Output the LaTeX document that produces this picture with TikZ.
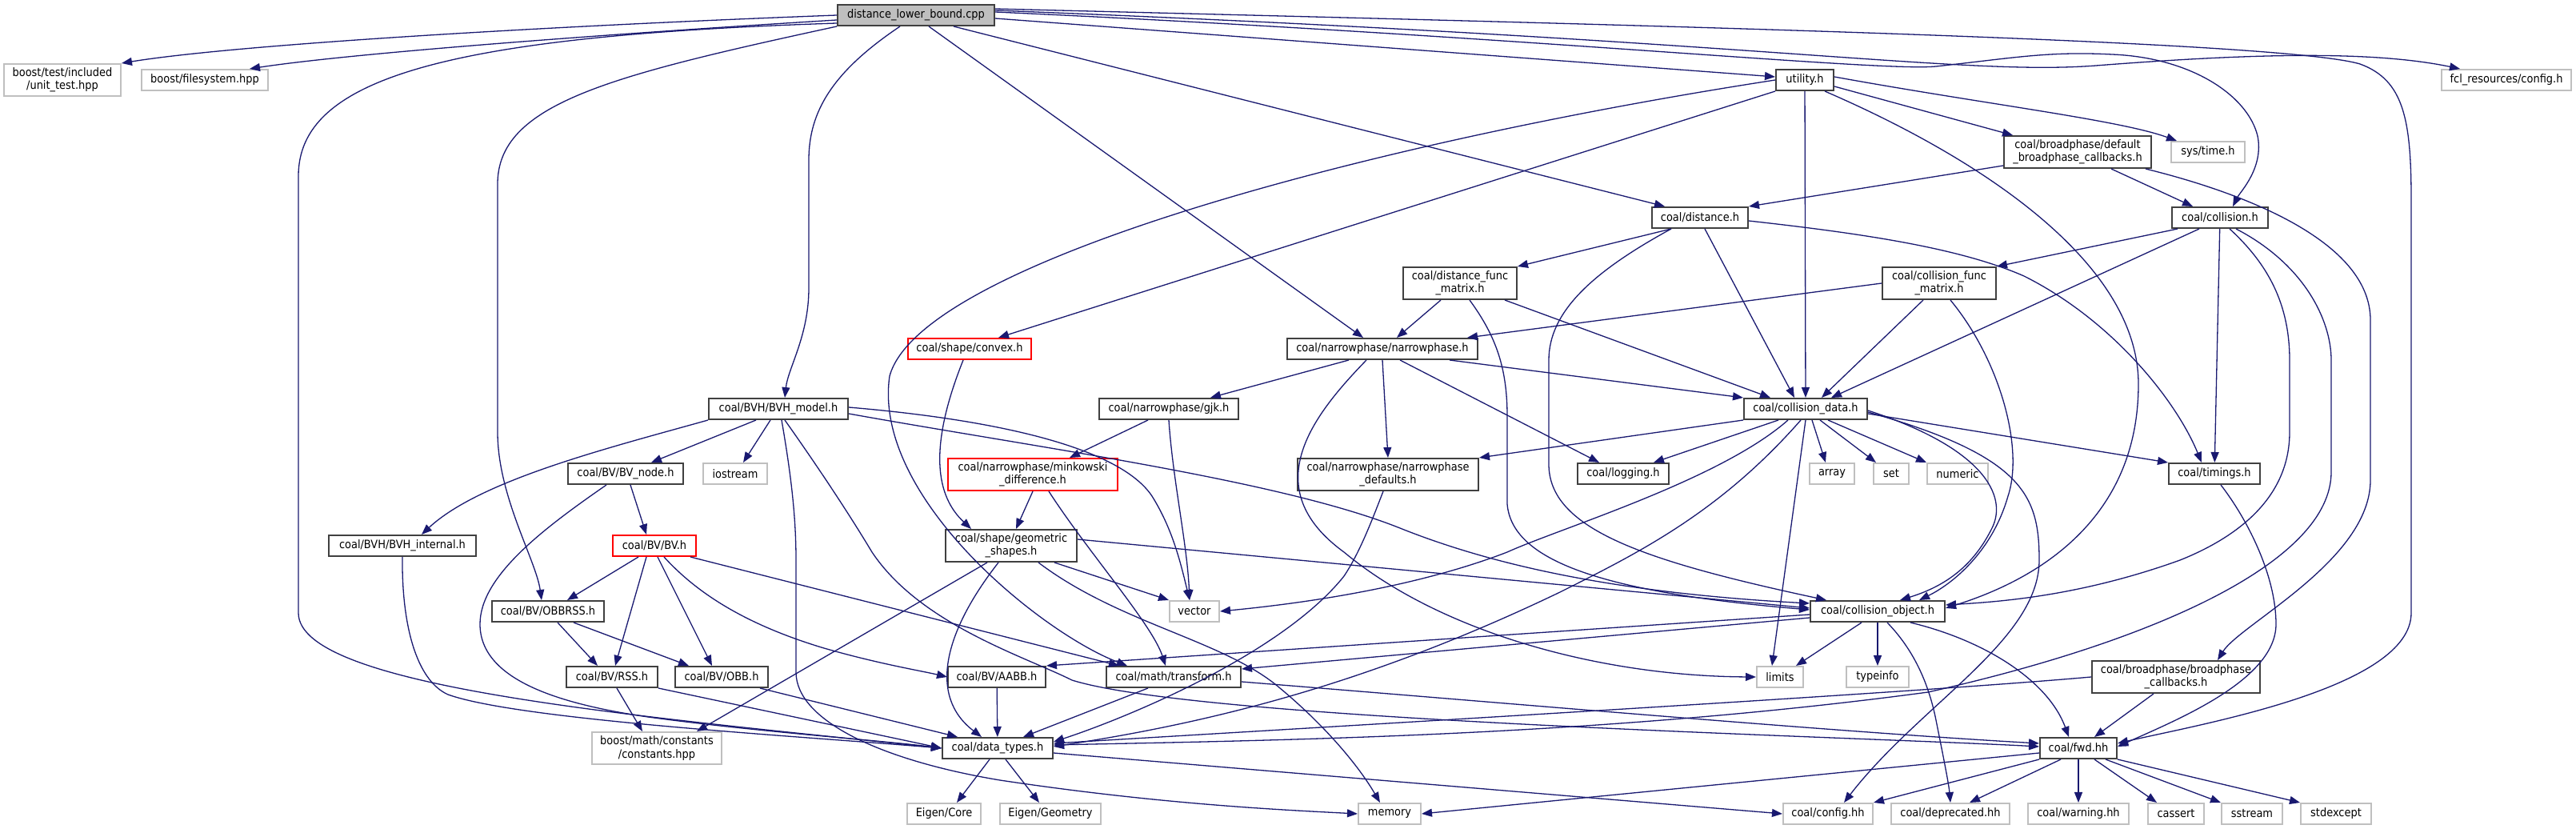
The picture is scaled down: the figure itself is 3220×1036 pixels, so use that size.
\documentclass[tikz,border=0pt]{standalone}
\usepackage{fontspec}
\IfFontExistsTF{DejaVu Sans Condensed}{\setmainfont{DejaVu Sans Condensed}}{\setmainfont{DejaVu Sans}[FakeStretch=0.9]}
\usetikzlibrary{arrows.meta}
\definecolor{edgec}{HTML}{191970}
\definecolor{sysc}{HTML}{BFBFBF}
\definecolor{intc}{HTML}{404040}
\newcommand\mkbox[7]{\node[#6,minimum width=#4*0.5pt,minimum height=#5*0.5pt] (#1) at (#2,#3) {#7};}
\begin{document}
\begin{tikzpicture}[x=0.5pt,y=-0.5pt,
  basen/.style={draw, line width=1pt, fill=white, inner sep=0pt, align=center, font=\fontsize{7.2}{8.2}\selectfont},
  intn/.style={basen, draw=intc},
  sysn/.style={basen, draw=sysc},
  redn/.style={basen, draw=red},
  cppn/.style={basen, draw=intc, fill=sysc},
  e/.style={draw=edgec, line width=0.65pt, -{Triangle[length=6.5pt,width=5pt]}}]
\useasboundingbox (0,0) rectangle (3220,1036);
\mkbox{cpp}{1145}{19}{196}{26}{cppn}{distance\_lower\_bound.cpp}
\mkbox{boosttest}{78}{100}{146}{40}{sysn}{boost/test/included\\/unit\_test.hpp}
\mkbox{filesystem}{256}{100}{158}{26}{sysn}{boost/filesystem.hpp}
\mkbox{utility}{2256}{100}{72}{26}{intn}{utility.h}
\mkbox{fcl}{3133}{100}{162}{26}{sysn}{fcl\_resources/config.h}
\mkbox{defbp}{2597}{190}{184}{40}{intn}{coal/broadphase/default\\\_broadphase\_callbacks.h}
\mkbox{systime}{2760}{190}{92}{26}{sysn}{sys/time.h}
\mkbox{distance}{2125}{272}{120}{26}{intn}{coal/distance.h}
\mkbox{collision}{2775}{272}{120}{26}{intn}{coal/collision.h}
\mkbox{distfm}{1825}{354}{142}{40}{intn}{coal/distance\_func\\\_matrix.h}
\mkbox{collfm}{2424}{354}{142}{40}{intn}{coal/collision\_func\\\_matrix.h}
\mkbox{convex}{1212}{436}{154}{26}{redn}{coal/shape/convex.h}
\mkbox{narrowphase}{1728}{436}{238}{26}{intn}{coal/narrowphase/narrowphase.h}
\mkbox{bvhmodel}{973}{511}{174}{26}{intn}{coal/BVH/BVH\_model.h}
\mkbox{gjk}{1461}{511}{174}{26}{intn}{coal/narrowphase/gjk.h}
\mkbox{colldata}{2257}{511}{154}{26}{intn}{coal/collision\_data.h}
\mkbox{bvnode}{782}{592}{144}{26}{intn}{coal/BV/BV\_node.h}
\mkbox{iostream}{919}{592}{80}{26}{sysn}{iostream}
\mkbox{minkowski}{1291}{593}{212}{40}{redn}{coal/narrowphase/minkowski\\\_difference.h}
\mkbox{npdefaults}{1735}{593}{226}{40}{intn}{coal/narrowphase/narrowphase\\\_defaults.h}
\mkbox{logging}{2029}{592}{114}{26}{intn}{coal/logging.h}
\mkbox{array}{2290}{592}{56}{26}{sysn}{array}
\mkbox{set}{2364}{592}{44}{26}{sysn}{set}
\mkbox{numeric}{2447}{592}{76}{26}{sysn}{numeric}
\mkbox{timings}{2768}{592}{114}{26}{intn}{coal/timings.h}
\mkbox{bvhinternal}{503}{682}{184}{26}{intn}{coal/BVH/BVH\_internal.h}
\mkbox{bv}{818}{682}{104}{26}{redn}{coal/BV/BV.h}
\mkbox{geometric}{1264}{682}{164}{40}{intn}{coal/shape/geometric\\\_shapes.h}
\mkbox{obbrss}{685}{764}{140}{26}{intn}{coal/BV/OBBRSS.h}
\mkbox{vector}{1493}{764}{62}{26}{sysn}{vector}
\mkbox{collobj}{2347}{764}{168}{26}{intn}{coal/collision\_object.h}
\mkbox{rss}{765}{846}{114}{26}{intn}{coal/BV/RSS.h}
\mkbox{obb}{902}{846}{116}{26}{intn}{coal/BV/OBB.h}
\mkbox{aabb}{1246}{846}{122}{26}{intn}{coal/BV/AABB.h}
\mkbox{transform}{1467}{846}{168}{26}{intn}{coal/math/transform.h}
\mkbox{limits}{2225}{846}{58}{26}{sysn}{limits}
\mkbox{typeinfo}{2347}{846}{78}{26}{sysn}{typeinfo}
\mkbox{bpcb}{2720}{846}{210}{40}{intn}{coal/broadphase/broadphase\\\_callbacks.h}
\mkbox{boostconst}{821}{935}{162}{40}{sysn}{boost/math/constants\\/constants.hpp}
\mkbox{datatypes}{1247}{935}{138}{26}{intn}{coal/data\_types.h}
\mkbox{fwd}{2598}{935}{96}{26}{intn}{coal/fwd.hh}
\mkbox{eigencore}{1180}{1017}{92}{26}{sysn}{Eigen/Core}
\mkbox{eigengeom}{1313}{1017}{126}{26}{sysn}{Eigen/Geometry}
\mkbox{memory}{1737}{1017}{78}{26}{sysn}{memory}
\mkbox{config}{2285}{1017}{112}{26}{sysn}{coal/config.hh}
\mkbox{deprecated}{2438}{1017}{148}{26}{sysn}{coal/deprecated.hh}
\mkbox{warning}{2598}{1017}{126}{26}{sysn}{coal/warning.hh}
\mkbox{cassert}{2720}{1017}{70}{26}{sysn}{cassert}
\mkbox{sstream}{2815}{1017}{76}{26}{sysn}{sstream}
\mkbox{stdexcept}{2920}{1017}{88}{26}{sysn}{stdexcept}
% cpp
\draw[e] (cpp.west) .. controls (700,32) and (300,55) .. (boosttest.north east);
\draw[e] ([yshift=-3pt]cpp.west) .. controls (800,40) and (450,65) .. ([xshift=-12pt]filesystem.north east);
\draw[e] ([yshift=-5pt]cpp.west) .. controls (550,45) and (373,100) .. (373,220) -- (373,766) .. controls (373,860) and (800,895) .. (datatypes.west);
\draw[e] (cpp.south west) .. controls (760,95) and (622,130) .. (622,230) -- (622,540) .. controls (622,620) and (670,700) .. ([xshift=-4pt]obbrss.north);
\draw[e] ([xshift=-10pt]cpp.south) .. controls (1040,90) and (1011,140) .. (1011,200) -- (1011,360) .. controls (1011,420) and (985,460) .. ([xshift=4pt]bvhmodel.north);
\draw[e] ([xshift=8pt]cpp.south) -- ([xshift=-12pt]narrowphase.north);
\draw[e] ([xshift=-26pt]cpp.south east) -- ([xshift=-22pt]distance.north);
\draw[e] ([yshift=-2pt]cpp.east) -- ([yshift=2pt]utility.west);
\draw[e] ([yshift=4pt]cpp.east) .. controls (2000,30) and (2850,50) .. (2950,80) .. controls (3005,100) and (3014,150) .. (3014,250) -- (3014,766) .. controls (3014,860) and (2750,905) .. ([yshift=3pt]fwd.east);
\draw[e] ([yshift=3pt]cpp.east) .. controls (2200,50) and (2450,95) .. (2620,82) .. controls (2800,68) and (2960,62) .. ([xshift=12pt]fcl.north west);
\draw[e] ([yshift=2pt]cpp.east) .. controls (1900,45) and (2350,90) .. (2420,83) .. controls (2520,72) and (2560,64) .. (2640,68) .. controls (2740,72) and (2810,120) .. (2822,170) .. controls (2830,210) and (2800,240) .. ([xshift=8pt]collision.north);
% utility
\draw[e] (utility.south west) -- ([xshift=18pt]convex.north);
\draw[e] (utility.west) .. controls (1700,180) and (1150,330) .. (1112,470) .. controls (1090,620) and (1300,790) .. ([xshift=-29pt]transform.north);
\draw[e] (utility) -- (colldata);
\draw[e] ([yshift=-4pt]utility.east) -- ([xshift=6pt]defbp.north west);
\draw[e] ([yshift=2pt]utility.east) .. controls (2480,130) and (2650,150) .. ([xshift=4pt]systime.north west);
\draw[e] ([xshift=-6pt]utility.south east) .. controls (2480,200) and (2673,330) .. (2673,480) .. controls (2673,640) and (2560,720) .. ([yshift=2pt]collobj.east);
% defbp
\draw[e] ([yshift=2pt]defbp.south west) -- (distance.north east);
\draw[e] ([xshift=21pt]defbp.south) -- ([xshift=-17pt]collision.north);
\draw[e] ([xshift=-4pt]defbp.south east) .. controls (2800,240) and (2963,300) .. (2963,400) -- (2963,600) .. controls (2963,700) and (2800,780) .. ([xshift=26pt]bpcb.north);
% distance
\draw[e] ([xshift=-18pt]distance.south) -- (distfm.north east);
\draw[e] ([xshift=3pt]distance.south) -- ([xshift=-7pt]colldata.north);
\draw[e] ([yshift=-2pt]distance.east) .. controls (2330,292) and (2450,310) .. (2530,345) .. controls (2640,400) and (2720,500) .. ([xshift=-8pt]timings.north);
\draw[e] ([xshift=-18pt]distance.south) .. controls (1990,340) and (1936,390) .. (1936,450) -- (1936,580) .. controls (1936,660) and (2050,700) .. ([xshift=-32pt]collobj.north);
% collision
\draw[e] ([xshift=4pt]collision.south west) -- (collfm.north east);
\draw[e] ([xshift=-13pt]collision.south) -- ([xshift=16pt]colldata.north);
\draw[e] (collision) -- (timings);
\draw[e] ([xshift=6pt]collision.south) .. controls (2835,330) and (2862,380) .. (2862,450) -- (2862,540) .. controls (2862,620) and (2800,670) .. (2725,700) .. controls (2600,745) and (2500,752) .. ([yshift=4pt]collobj.east);
\draw[e] ([xshift=10pt]collision.south) .. controls (2880,330) and (2914,400) .. (2914,450) -- (2914,590) .. controls (2914,700) and (2700,800) .. (2410,865) .. controls (2000,920) and (1600,925) .. ([yshift=2pt]datatypes.east);
% distfm
\draw[e] ([xshift=-12pt]distfm.south) -- ([xshift=9pt]narrowphase.north);
\draw[e] ([xshift=-8pt]distfm.south east) -- ([xshift=17pt]colldata.north west);
\draw[e] ([xshift=6pt]distfm.south) .. controls (1870,420) and (1884,460) .. (1884,520) -- (1884,630) .. controls (1890,700) and (2000,740) .. ([yshift=1pt]collobj.west);
% collfm
\draw[e] (collfm.west) -- ([xshift=-7pt]narrowphase.north east);
\draw[e] ([xshift=-10pt]collfm.south) -- ([xshift=10pt]colldata.north);
\draw[e] ([xshift=7pt]collfm.south) .. controls (2500,450) and (2530,560) .. (2510,620) .. controls (2490,690) and (2440,730) .. ([xshift=26pt]collobj.north);
% narrowphase
\draw[e] ([xshift=-21pt]narrowphase.south) -- ([xshift=26pt]gjk.north);
\draw[e] ([xshift=42pt]narrowphase.south) -- (colldata.north west);
\draw[e] (narrowphase.south) -- (npdefaults.north);
\draw[e] ([xshift=11pt]narrowphase.south) -- ([xshift=-15pt]logging.north);
\draw[e] ([xshift=-10pt]narrowphase.south) .. controls (1640,520) and (1570,610) .. (1680,690) .. controls (1800,790) and (2000,845) .. (limits.west);
% gjk
\draw[e] ([xshift=-13pt]gjk.south) -- ([xshift=23pt]minkowski.north);
\draw[e] (gjk.south) .. controls (1466,600) and (1484,680) .. ([xshift=-3pt]vector.north);
% minkowski
\draw[e] (minkowski.south) -- ([xshift=3pt]geometric.north);
\draw[e] ([xshift=10pt]minkowski.south) .. controls (1360,690) and (1440,780) .. ([xshift=-5pt]transform.north);
% convex
\draw[e] ([xshift=-4pt]convex.south) .. controls (1160,560) and (1170,620) .. ([xshift=-25pt]geometric.north);
% bvhmodel
\draw[e] ([xshift=-14pt]bvhmodel.south) -- ([xshift=16pt]bvnode.north);
\draw[e] ([xshift=-5pt]bvhmodel.south) -- ([xshift=5pt]iostream.north);
\draw[e] (bvhmodel.south west) .. controls (760,560) and (600,600) .. ([xshift=12pt]bvhinternal.north);
\draw[e] ([xshift=2pt]bvhmodel.south) .. controls (990,600) and (995,650) .. (995,700) -- (995,840) .. controls (995,900) and (1100,950) .. (1250,975) .. controls (1450,1005) and (1600,1012) .. (memory.west);
\draw[e] ([yshift=1pt]bvhmodel.east) .. controls (1250,525) and (1400,560) .. (1440,620) .. controls (1465,660) and (1475,700) .. ([xshift=-3pt]vector.north);
\draw[e] ([yshift=-3pt]bvhmodel.east) .. controls (1300,560) and (1600,600) .. (1750,660) .. controls (1850,700) and (2000,740) .. ([yshift=5pt]collobj.west);
\draw[e] ([xshift=4pt]bvhmodel.south) .. controls (1020,580) and (1060,640) .. (1090,690) .. controls (1150,780) and (1280,820) .. (1340,850) .. controls (1500,900) and (2300,920) .. ([yshift=1pt]fwd.west);
% bvnode
\draw[e] ([xshift=3pt]bvnode.south) -- ([xshift=-5pt]bv.north);
\draw[e] ([xshift=-12pt]bvnode.south) .. controls (680,660) and (600,720) .. (600,780) .. controls (600,850) and (700,880) .. (810,896) .. controls (950,915) and (1100,925) .. (datatypes.west);
% bvhinternal
\draw[e] (bvhinternal.south) .. controls (502,780) and (520,850) .. (560,868) .. controls (650,900) and (1000,920) .. (datatypes.west);
% bv
\draw[e] ([xshift=-10pt]bv.south) -- ([xshift=12pt]obbrss.north);
\draw[e] ([xshift=-5pt]bv.south) -- ([xshift=2pt]rss.north);
\draw[e] ([xshift=2pt]bv.south) -- ([xshift=-6pt]obb.north);
\draw[e] ([xshift=6pt]bv.south) .. controls (870,740) and (930,780) .. (1030,810) .. controls (1100,830) and (1150,838) .. (aabb.west);
\draw[e] ([xshift=-4pt]bv.south east) -- ([xshift=-34pt]transform.north);
% obbrss
\draw[e] ([xshift=6pt]obbrss.south) -- ([xshift=-9pt]rss.north);
\draw[e] ([xshift=16pt]obbrss.south) -- ([xshift=9pt]obb.north west);
% rss
\draw[e] ([xshift=3pt]rss.south) -- ([xshift=-9pt]boostconst.north);
\draw[e] (rss.south east) -- (datatypes.west);
% obb, aabb, transform
\draw[e] ([xshift=24pt]obb.south) -- ([xshift=10pt]datatypes.north west);
\draw[e] (aabb) -- (datatypes);
\draw[e] ([xshift=-16pt]transform.south) -- ([xshift=16pt]datatypes.north);
\draw[e] ([yshift=-3pt]transform.east) .. controls (1900,880) and (2300,915) .. ([yshift=3pt]fwd.west);
% geometric
\draw[e] ([xshift=-15pt]geometric.south) -- ([xshift=25pt]boostconst.north);
\draw[e] ([xshift=-8pt]geometric.south) .. controls (1180,790) and (1160,870) .. ([xshift=-10pt]datatypes.north);
\draw[e] ([xshift=27pt]geometric.south) -- (vector.north west);
\draw[e] ([xshift=17pt]geometric.south) .. controls (1400,780) and (1530,800) .. (1600,860) .. controls (1660,910) and (1700,960) .. ([xshift=-6pt]memory.north);
\draw[e] ([yshift=4pt]geometric.east) -- ([yshift=2pt]collobj.west);
% npdefaults
\draw[e] ([xshift=-3pt]npdefaults.south) .. controls (1715,650) and (1700,690) .. (1680,720) .. controls (1600,820) and (1400,900) .. ([yshift=4pt]datatypes.east);
% colldata
\draw[e] (colldata.south west) -- (npdefaults.north east);
\draw[e] ([xshift=-17pt]colldata.south) -- ([xshift=19pt]logging.north);
\draw[e] ([xshift=4pt]colldata.south) -- ([xshift=-4pt]array.north);
\draw[e] ([xshift=9pt]colldata.south) -- ([xshift=2pt]set.north west);
\draw[e] ([xshift=14pt]colldata.south) -- (numeric.north west);
\draw[e] ([yshift=-3pt]colldata.east) -- (timings.north west);
\draw[e] ([yshift=-1pt]colldata.east) .. controls (2480,560) and (2510,620) .. (2490,660) .. controls (2470,700) and (2440,730) .. ([xshift=14pt]collobj.north);
\draw[e] ([yshift=-2pt]colldata.east) .. controls (2530,570) and (2549,620) .. (2549,700) .. controls (2549,800) and (2400,880) .. ([xshift=10pt]config.north);
\draw[e] ([xshift=-11pt]colldata.south) .. controls (2150,600) and (1950,660) .. (1884,690) .. controls (1780,730) and (1650,752) .. (vector.east);
\draw[e] ([xshift=-3pt]colldata.south) .. controls (2150,640) and (2050,690) .. (1950,740) .. controls (1700,860) and (1500,905) .. ([yshift=1pt]datatypes.east);
\draw[e] (colldata.south) -- ([xshift=-5pt]limits.north);
% collobj
\draw[e] ([yshift=-2pt]collobj.west) -- (aabb.north east);
\draw[e] ([yshift=-4pt]collobj.west) -- ([yshift=5pt]transform.east);
\draw[e] ([xshift=-10pt]collobj.south) -- ([xshift=10pt]limits.north);
\draw[e] (collobj) -- (typeinfo);
\draw[e] ([xshift=6pt]collobj.south) .. controls (2390,810) and (2410,850) .. (2420,900) .. controls (2430,950) and (2436,980) .. (deprecated.north);
\draw[e] ([xshift=-22pt]collobj.south east) .. controls (2480,800) and (2560,850) .. ([xshift=-6pt]fwd.north);
% timings
\draw[e] ([xshift=4pt]timings.south) .. controls (2810,650) and (2845,720) .. (2845,780) .. controls (2845,850) and (2720,900) .. ([yshift=1pt]fwd.east);
% bpcb
\draw[e] (bpcb.west) .. controls (2400,865) and (1800,900) .. ([yshift=3pt]datatypes.east);
\draw[e] ([xshift=-14pt]bpcb.south) -- ([xshift=10pt]fwd.north);
% fwd
\draw[e] ([yshift=-3pt]fwd.west) -- (memory.east);
\draw[e] (fwd.south west) -- (config.north east);
\draw[e] ([xshift=-11pt]fwd.south) -- ([xshift=12pt]deprecated.north);
\draw[e] (fwd) -- (warning);
\draw[e] ([xshift=10pt]fwd.south) -- ([xshift=-12pt]cassert.north);
\draw[e] ([xshift=17pt]fwd.south) -- (sstream.north west);
\draw[e] (fwd.south east) -- (stdexcept.north west);
% datatypes
\draw[e] ([yshift=-3pt]datatypes.east) -- (config.west);
\draw[e] ([xshift=-5pt]datatypes.south) -- ([xshift=8pt]eigencore.north);
\draw[e] ([xshift=5pt]datatypes.south) -- ([xshift=-7pt]eigengeom.north);
\end{tikzpicture}
\end{document}
